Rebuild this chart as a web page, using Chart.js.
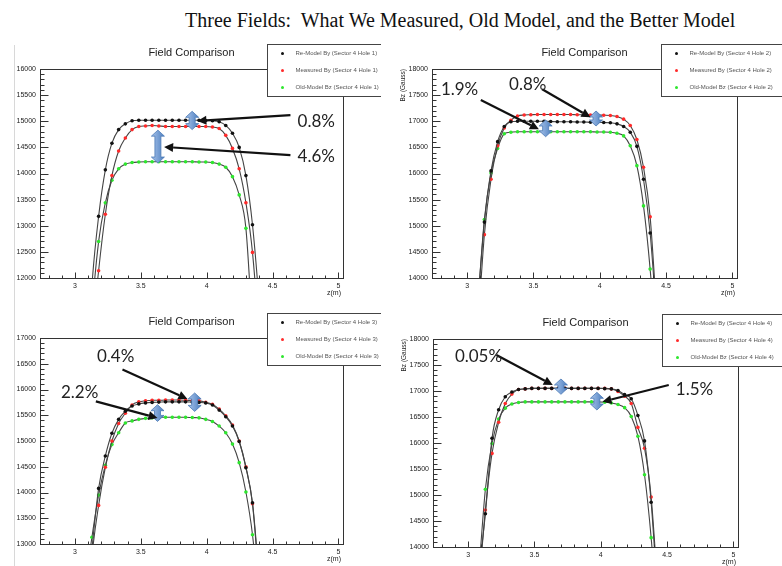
<!DOCTYPE html>
<html>
<head>
<meta charset="utf-8">
<script src="https://cdn.jsdelivr.net/npm/chart.js@4.4.1/dist/chart.umd.min.js"></script>
<style>
  body { margin: 0; background: #fff; width: 782px; height: 566px; position: relative; overflow: hidden; }
  #title { position: absolute; left: 185px; top: 9px; font: 20px "Liberation Serif", "Times New Roman", serif; color: #111; white-space: nowrap; }
  #rule { position: absolute; left: 14px; top: 45px; width: 1px; height: 521px; background: #d8d8d8; }
  canvas { position: absolute; }
</style>
</head>
<body>
<div id="title">Three Fields:&nbsp; What We Measured, Old Model, and the Better Model</div>
<div id="rule"></div>
<canvas id="hole1" width="381" height="262" style="left:0;top:38px"></canvas>
<canvas id="hole2" width="392" height="262" style="left:390px;top:38px"></canvas>
<canvas id="hole3" width="381" height="263" style="left:0;top:303px"></canvas>
<canvas id="hole4" width="392" height="263" style="left:390px;top:303px"></canvas>
<script>
// probe positions along the magnet (m)
var zHoles13 = [3.078, 3.129, 3.180, 3.231, 3.281, 3.332, 3.383, 3.434, 3.485, 3.536, 3.586, 3.637, 3.688, 3.739,
                3.790, 3.840, 3.891, 3.942, 3.993, 4.044, 4.095, 4.145, 4.196, 4.247, 4.298, 4.348, 4.399, 4.450];
var zHoles24 = [3.08, 3.13, 3.18, 3.23, 3.28, 3.33, 3.38, 3.43, 3.48, 3.53, 3.58, 3.63, 3.68, 3.73,
                3.78, 3.83, 3.88, 3.93, 3.98, 4.03, 4.08, 4.13, 4.18, 4.23, 4.28, 4.33, 4.38, 4.43];

var seriesNames = ["Re-Model By", "Measured By", "Old-Model Bz"];
var markerColors = ["#111111", "#ff2a2a", "#2ee62e"];

// field values (Gauss)
var reModel1  = [9500, 11850, 13180, 14070, 14580, 14840, 14950, 15010, 15020, 15020, 15020, 15020, 15020, 15020,
                 15020, 15020, 15020, 15020, 15015, 15010, 14990, 14920, 14770, 14500, 13960, 13020, 11500, 9500];
var measured1 = [8500, 10800, 12140, 13220, 13960, 14430, 14680, 14840, 14900, 14910, 14920, 14910, 14900, 14900,
                 14900, 14900, 14900, 14900, 14900, 14890, 14860, 14730, 14480, 14090, 13440, 12490, 10800, 8500];
var oldModel1 = [9000, 11300, 12700, 13440, 13870, 14090, 14180, 14210, 14220, 14225, 14225, 14225, 14225, 14225,
                 14225, 14225, 14225, 14220, 14220, 14210, 14180, 14120, 13940, 13590, 12950, 11000, 9000, 8000];

var reModel2  = [13500, 15070, 16050, 16610, 16900, 16990, 17000, 17000, 17000, 17000, 17000, 16995, 16990, 16990,
                 16990, 16985, 16985, 16980, 16980, 16975, 16970, 16950, 16900, 16790, 16520, 15890, 14860, 13200];
var measured2 = [13000, 14830, 15890, 16530, 16870, 17020, 17100, 17120, 17125, 17130, 17130, 17130, 17130, 17130,
                 17130, 17125, 17125, 17120, 17120, 17115, 17110, 17090, 17040, 16920, 16650, 16120, 15170, 13300];
var oldModel2 = [13500, 15120, 16010, 16480, 16760, 16790, 16800, 16800, 16800, 16800, 16800, 16800, 16800, 16800,
                 16800, 16800, 16800, 16800, 16795, 16795, 16790, 16770, 16720, 16530, 16150, 15380, 14170, 12500];

var reModel3  = [11500, 12900, 14080, 14710, 15150, 15420, 15580, 15680, 15720, 15740, 15750, 15755, 15760, 15760,
                 15760, 15760, 15755, 15750, 15740, 15700, 15600, 15470, 15290, 14990, 14480, 13800, 12300, 10500];
var measured3 = [11000, 12750, 13750, 14490, 15000, 15340, 15540, 15700, 15760, 15780, 15790, 15790, 15795, 15795,
                 15795, 15790, 15785, 15780, 15750, 15715, 15620, 15490, 15310, 15000, 14500, 13780, 12200, 10500];
var oldModel3 = [12200, 13130, 13950, 14530, 14930, 15160, 15350, 15390, 15420, 15440, 15450, 15460, 15460, 15460,
                 15460, 15460, 15455, 15450, 15420, 15380, 15290, 15160, 14940, 14580, 14010, 13180, 11800, 10000];

var reModel4  = [13500, 14640, 16090, 16640, 16890, 16980, 17030, 17040, 17050, 17050, 17050, 17050, 17050, 17050,
                 17050, 17050, 17050, 17050, 17050, 17045, 17040, 17010, 16930, 16850, 16530, 16040, 14860, 13000];
var measured4 = [13200, 14710, 15800, 16400, 16760, 16940, 17030, 17040, 17050, 17050, 17050, 17050, 17050, 17050,
                 17050, 17050, 17050, 17050, 17050, 17050, 17040, 16990, 16900, 16760, 16300, 15900, 14960, 13200];
var oldModel4 = [13500, 15110, 15990, 16460, 16670, 16750, 16780, 16790, 16790, 16790, 16790, 16790, 16790, 16790,
                 16790, 16790, 16790, 16790, 16790, 16785, 16770, 16740, 16680, 16510, 16130, 15390, 14180, 12500];

// axis labels
var zTicks = [3, 3.5, 4, 4.5, 5];
var yTicks1 = [12000, 12500, 13000, 13500, 14000, 14500, 15000, 15500, 16000];
var yTicks2 = [14000, 14500, 15000, 15500, 16000, 16500, 17000, 17500, 18000];
var yTicks3 = [13000, 13500, 14000, 14500, 15000, 15500, 16000, 16500, 17000];
var yTicks4 = [14000, 14500, 15000, 15500, 16000, 16500, 17000, 17500, 18000];

// difference callouts: blue spans [z, low, high], pointers [z0, B0, z1, B1], text [label, z, B]
var notes1 = {
  spans: [[3.89, 14840, 15190], [3.63, 14200, 14830]],
  pointers: [[4.636, 15117, 3.93, 15007], [4.636, 14350, 3.677, 14509]],
  labels: [["0.8%", 4.69, 14988], ["4.6%", 4.69, 14330]]
};
var notes2 = {
  spans: [[3.592, 16704, 17024], [3.972, 16909, 17196]],
  pointers: [[3.103, 17407, 3.541, 16846], [3.566, 17612, 3.93, 17076]],
  labels: [["1.9%", 2.802, 17598], ["0.8%", 3.316, 17694]]
};
var notes3 = {
  spans: [[3.627, 15380, 15705], [3.909, 15575, 15933]],
  pointers: [[3.159, 15769, 3.627, 15446], [3.361, 16386, 3.854, 15816]],
  labels: [["2.2%", 2.894, 15933], ["0.4%", 3.167, 16645]]
};
var notes4 = {
  spans: [[3.70, 16936, 17231], [3.971, 16635, 16975]],
  pointers: [[3.213, 17692, 3.638, 17115], [4.513, 17115, 4.013, 16794]],
  labels: [["0.05%", 2.90, 17660], ["1.5%", 4.566, 17019]]
};

var SANS = '"Liberation Sans", Arial, sans-serif';

function doubleArrow(ctx, cx, yTop, yBot) {
  var hw = 6.5, sw = 3, hl = 6;
  ctx.beginPath();
  ctx.moveTo(cx, yTop);
  ctx.lineTo(cx + hw, yTop + hl);
  ctx.lineTo(cx + sw, yTop + hl);
  ctx.lineTo(cx + sw, yBot - hl);
  ctx.lineTo(cx + hw, yBot - hl);
  ctx.lineTo(cx, yBot);
  ctx.lineTo(cx - hw, yBot - hl);
  ctx.lineTo(cx - sw, yBot - hl);
  ctx.lineTo(cx - sw, yTop + hl);
  ctx.lineTo(cx - hw, yTop + hl);
  ctx.closePath();
  var g = ctx.createLinearGradient(cx - hw, 0, cx + hw, 0);
  g.addColorStop(0, "#a8c3ea");
  g.addColorStop(1, "#4d7fc0");
  ctx.fillStyle = g;
  ctx.fill();
  ctx.strokeStyle = "#4a78b5";
  ctx.lineWidth = 0.8;
  ctx.stroke();
}

function pointer(ctx, x0, y0, x1, y1) {
  var ang = Math.atan2(y1 - y0, x1 - x0), hl = 9, hw = 4.5;
  var bx = x1 - hl * Math.cos(ang), by = y1 - hl * Math.sin(ang);
  ctx.strokeStyle = "#111";
  ctx.lineWidth = 2.2;
  ctx.beginPath();
  ctx.moveTo(x0, y0);
  ctx.lineTo(bx, by);
  ctx.stroke();
  ctx.fillStyle = "#111";
  ctx.beginPath();
  ctx.moveTo(x1, y1);
  ctx.lineTo(bx + hw * Math.sin(ang), by - hw * Math.cos(ang));
  ctx.lineTo(bx - hw * Math.sin(ang), by + hw * Math.cos(ang));
  ctx.closePath();
  ctx.fill();
}

// ROOT-like frame, inward ticks, title, legend box and the callouts
var panelDecor = {
  id: "panelDecor",
  afterDatasetsDraw: function (chart, args, opts) {
    var ctx = chart.ctx, a = chart.chartArea, xs = chart.scales.x, ys = chart.scales.y;
    ctx.save();
    ctx.strokeStyle = "#333";
    ctx.lineWidth = 1;
    var L = Math.round(a.left) + 0.5, R = Math.round(a.right) + 0.5, T = Math.round(a.top) + 0.5, B = Math.round(a.bottom) + 0.5;
    ctx.strokeRect(L, T, R - L, B - T);

    ctx.beginPath();
    for (var v = ys.min; v <= ys.max; v += 100) {
      var py = Math.round(ys.getPixelForValue(v)) + 0.5;
      var len = (v % 500 === 0) ? 8 : 4;
      ctx.moveTo(L, py);
      ctx.lineTo(L + len, py);
    }
    for (var k = 28; k <= 50; k++) {
      var px = Math.round(xs.getPixelForValue(k / 10)) + 0.5;
      if (px < L || px > R) continue;
      var lx = (k % 5 === 0) ? 6 : 3;
      ctx.moveTo(px, B);
      ctx.lineTo(px, B - lx);
    }
    ctx.stroke();

    ctx.fillStyle = "#222";
    ctx.font = "11px " + SANS;
    ctx.textAlign = "center";
    ctx.textBaseline = "middle";
    ctx.fillText("Field Comparison", (a.left + a.right) / 2, a.top - 16);

    ctx.font = "7px " + SANS;
    ctx.textAlign = "right";
    ctx.fillText("z(m)", a.right - 2, a.bottom + 15);

    if (opts.yTitle) {
      ctx.save();
      ctx.translate(a.left - 29, a.top);
      ctx.rotate(-Math.PI / 2);
      ctx.font = "6.5px " + SANS;
      ctx.textAlign = "right";
      ctx.fillText("Bz (Gauss)", 0, 0);
      ctx.restore();
    }

    // legend
    var bx = Math.round(a.right - 76) + 0.5, by = Math.round(a.top - 25) + 0.5;
    ctx.fillStyle = "#fff";
    ctx.fillRect(bx, by, 200, 52);
    ctx.strokeStyle = "#444";
    ctx.strokeRect(bx, by, 200, 52);
    ctx.font = "6px " + SANS;
    ctx.textAlign = "left";
    chart.data.datasets.forEach(function (ds, i) {
      var ry = by + 9 + i * 17;
      ctx.fillStyle = markerColors[i];
      ctx.beginPath();
      ctx.arc(bx + 15, ry, 1.5, 0, Math.PI * 2);
      ctx.fill();
      ctx.fillStyle = "#555";
      ctx.fillText(ds.label, bx + 28, ry);
    });

    var n = opts.notes;
    n.spans.forEach(function (s) {
      doubleArrow(ctx, xs.getPixelForValue(s[0]), ys.getPixelForValue(s[2]), ys.getPixelForValue(s[1]));
    });
    n.pointers.forEach(function (p) {
      pointer(ctx, xs.getPixelForValue(p[0]), ys.getPixelForValue(p[1]), xs.getPixelForValue(p[2]), ys.getPixelForValue(p[3]));
    });
    ctx.fillStyle = "#222";
    ctx.font = "17px Lato, " + SANS;
    ctx.textAlign = "left";
    ctx.textBaseline = "middle";
    n.labels.forEach(function (l) {
      ctx.fillText(l[0], xs.getPixelForValue(l[1]), ys.getPixelForValue(l[2]));
    });
    ctx.restore();
  }
};

function makePanel(id, hole, z, series, yTicks, notes, box) {
  var tickFont = { family: SANS, size: 7 };
  new Chart(id, {
    type: "scatter",
    data: {
      datasets: series.map(function (vals, i) {
        return {
          label: seriesNames[i] + " (Sector 4 Hole " + hole + ")",
          data: z.map(function (x, k) { return { x: x, y: vals[k] }; }),
          showLine: true,
          borderColor: "#444",
          borderWidth: 1.1,
          cubicInterpolationMode: "monotone",
          pointRadius: 1.8,
          pointBackgroundColor: markerColors[i],
          pointBorderColor: markerColors[i],
          pointBorderWidth: 0
        };
      })
    },
    plugins: [panelDecor],
    options: {
      responsive: false,
      animation: false,
      devicePixelRatio: 1,
      layout: { padding: box.pad },
      plugins: {
        legend: { display: false },
        tooltip: { enabled: false },
        panelDecor: { notes: notes, yTitle: box.yTitle }
      },
      scales: {
        x: {
          type: "linear",
          min: 2.735,
          max: 5.035,
          afterBuildTicks: function (s) { s.ticks = zTicks.map(function (v) { return { value: v }; }); },
          afterFit: function (s) { s.height = box.xh; },
          grid: { display: false, drawTicks: false },
          border: { display: false },
          ticks: { font: tickFont, color: "#222", padding: 4, maxRotation: 0, autoSkip: false,
                   callback: function (v) { return String(v); } }
        },
        y: {
          type: "linear",
          min: yTicks[0],
          max: yTicks[yTicks.length - 1],
          afterBuildTicks: function (s) { s.ticks = yTicks.map(function (v) { return { value: v }; }); },
          afterFit: function (s) { s.width = box.yw; },
          grid: { display: false, drawTicks: false },
          border: { display: false },
          ticks: { font: tickFont, color: "#222", padding: 4, autoSkip: false,
                   callback: function (v) { return String(v); } }
        }
      }
    }
  });
}

makePanel("hole1", 1, zHoles13, [reModel1, measured1, oldModel1], yTicks1, notes1,
  { pad: { left: 0, right: 38, top: 31, bottom: 0 }, yw: 40, xh: 22, yTitle: false });
makePanel("hole2", 2, zHoles24, [reModel2, measured2, oldModel2], yTicks2, notes2,
  { pad: { left: 0, right: 45, top: 31, bottom: 0 }, yw: 42, xh: 22, yTitle: true });
makePanel("hole3", 3, zHoles13, [reModel3, measured3, oldModel3], yTicks3, notes3,
  { pad: { left: 0, right: 38, top: 35, bottom: 0 }, yw: 40, xh: 22, yTitle: false });
makePanel("hole4", 4, zHoles24, [reModel4, measured4, oldModel4], yTicks4, notes4,
  { pad: { left: 0, right: 44, top: 36, bottom: 0 }, yw: 43, xh: 19, yTitle: true });
</script>
</body>
</html>
